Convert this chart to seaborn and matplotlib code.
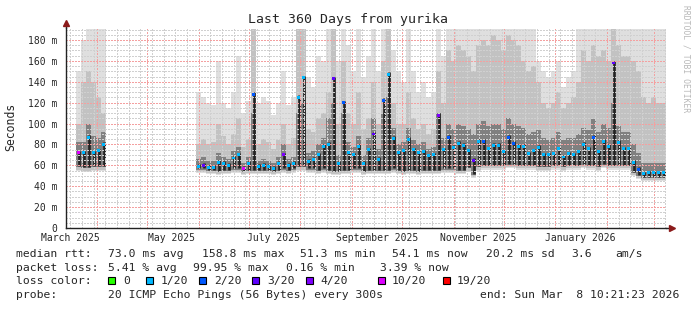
import numpy as np
import pandas as pd
import matplotlib
matplotlib.use("Agg")
import matplotlib.pyplot as plt
import matplotlib.dates as mdates
from matplotlib.ticker import MultipleLocator, FuncFormatter
from matplotlib.patches import Rectangle
from matplotlib.lines import Line2D
import seaborn as sns

N = np.nan

# ---------------- data (3-day bins, 120 bins over 360 days) ----------------
start = pd.Timestamp("2025-03-13 10:21:23")
end = pd.Timestamp("2026-03-08 10:21:23")
n_bins = 120

median_ms = [
    N, N, 72, 72, 87, 72, 74, 80, N, N,
    N, N, N, N, N, N, N, N, N, N,
    N, N, N, N, N, N, 59, 60, 58, 58,
    63, 62, 60, 67, 70, 57, 62, 128, 59, 60,
    59, 57, 62, 70, 60, 62, 125, 144, 64, 66,
    70, 78, 80, 143, 62, 120, 72, 70, 78, 62,
    75, 90, 66, 122, 147, 86, 72, 74, 85, 75,
    72, 73, 69, 70, 108, 75, 87, 77, 81, 79,
    74, 65, 83, 83, 76, 79, 79, 73, 87, 81,
    78, 78, 71, 74, 77, 70, 70, 71, 76, 68,
    71, 70, 73, 80, 76, 87, 73, 83, 78, 158,
    82, 76, 76, 63, 56, 52, 53, 53, 53, 53,
]

loss = [
    "", "", "10/20", "1/20", "1/20", "1/20", "1/20", "1/20", "", "",
    "", "", "", "", "", "", "", "", "", "",
    "", "", "", "", "", "", "1/20", "3/20", "1/20", "1/20",
    "1/20", "1/20", "1/20", "1/20", "1/20", "10/20", "1/20", "2/20", "1/20", "1/20",
    "1/20", "1/20", "1/20", "4/20", "1/20", "1/20", "1/20", "1/20", "1/20", "1/20",
    "1/20", "1/20", "1/20", "3/20", "1/20", "2/20", "1/20", "1/20", "1/20", "1/20",
    "1/20", "3/20", "1/20", "2/20", "1/20", "1/20", "1/20", "1/20", "1/20", "1/20",
    "1/20", "1/20", "1/20", "1/20", "4/20", "1/20", "2/20", "1/20", "1/20", "1/20",
    "1/20", "3/20", "1/20", "2/20", "1/20", "1/20", "1/20", "1/20", "2/20", "2/20",
    "1/20", "1/20", "1/20", "1/20", "1/20", "1/20", "1/20", "1/20", "1/20", "1/20",
    "1/20", "1/20", "1/20", "1/20", "1/20", "2/20", "1/20", "1/20", "1/20", "3/20",
    "1/20", "1/20", "1/20", "1/20", "2/20", "1/20", "1/20", "1/20", "1/20", "1/20",
]

smoke_min = [
    N, N, 55, 54, 54, 55, 55, 55, N, N,
    N, N, N, N, N, N, N, N, N, N,
    N, N, N, N, N, N, 53, 53, 52, 52,
    51, 52, 52, 53, 53, 51, 52, 52, 52, 52,
    52, 51, 52, 53, 52, 53, 55, 55, 53, 53,
    52, 53, 52, 51, 51, 52, 52, 53, 53, 51,
    52, 52, 52, 52, 52, 53, 52, 51, 52, 52,
    51, 52, 52, 52, 52, 53, 53, 53, 52, 52,
    54, 48, 55, 56, 56, 56, 56, 56, 57, 57,
    56, 56, 56, 56, 55, 55, 55, 56, 56, 55,
    56, 56, 56, 57, 56, 56, 55, 57, 56, 56,
    56, 56, 56, 50, 47, 45, 45, 45, 45, 45,
]

smoke_dark = [
    N, N, 82, 82, 100, 88, 86, 92, N, N,
    N, N, N, N, N, N, N, N, N, N,
    N, N, N, N, N, N, 66, 68, 64, 64,
    72, 68, 66, 74, 78, 62, 68, 110, 64, 66,
    64, 62, 68, 80, 66, 68, 110, 120, 72, 74,
    80, 86, 105, 120, 70, 110, 82, 78, 88, 70,
    86, 105, 76, 110, 125, 96, 80, 82, 96, 84,
    80, 82, 76, 78, 110, 86, 100, 95, 100, 98,
    95, 90, 100, 102, 98, 100, 100, 95, 105, 100,
    98, 96, 90, 92, 94, 86, 84, 86, 92, 84,
    86, 86, 90, 96, 94, 104, 92, 100, 96, 120,
    98, 92, 92, 80, 72, 62, 62, 62, 62, 62,
]

smoke_mid = [
    N, N, 100, 140, 150, 140, 125, 110, N, N,
    N, N, N, N, N, N, N, N, N, N,
    N, N, N, N, N, N, 80, 85, 80, 82,
    100, 88, 80, 90, 105, 78, 85, 191, 80, 85,
    82, 76, 84, 100, 80, 86, 191, 191, 95, 92,
    105, 110, 130, 191, 100, 160, 110, 100, 130, 95,
    105, 140, 100, 160, 191, 120, 100, 100, 130, 105,
    95, 100, 90, 95, 150, 120, 170, 160, 175, 170,
    165, 150, 175, 180, 175, 185, 180, 170, 185, 180,
    175, 160, 150, 155, 140, 120, 115, 120, 130, 115,
    120, 125, 140, 170, 160, 175, 165, 170, 160, 191,
    175, 165, 165, 160, 150, 125, 120, 125, 120, 120,
]

smoke_max = [
    N, N, 150, 180, 191, 191, 191, 191, N, N,
    N, N, N, N, N, N, N, N, N, N,
    N, N, N, N, N, N, 130, 125, 120, 118,
    160, 120, 115, 130, 165, 110, 122, 191, 120, 125,
    122, 108, 120, 150, 118, 125, 191, 191, 145, 135,
    165, 160, 191, 191, 160, 191, 175, 150, 191, 145,
    165, 191, 150, 191, 191, 170, 150, 140, 191, 150,
    130, 140, 125, 130, 191, 165, 191, 191, 191, 191,
    191, 191, 191, 191, 191, 191, 191, 191, 191, 191,
    191, 191, 191, 191, 160, 150, 145, 150, 160, 135,
    145, 150, 191, 191, 191, 191, 191, 191, 191, 191,
    191, 191, 191, 191, 191, 191, 191, 191, 191, 191,
]

loss_colors = {
    "0": "#26ff00", "1/20": "#00b8ff", "2/20": "#0059ff", "3/20": "#5e00ff",
    "4/20": "#7e00ff", "10/20": "#dd00ff", "19/20": "#ff0000",
}

# ---------------- build frame ----------------
bin_start = pd.date_range(start, periods=n_bins, freq="3D")
bin_end = bin_start + pd.Timedelta(days=3)
centers = bin_start + pd.Timedelta(days=1.5)
df = pd.DataFrame({
    "t": centers,
    "median": np.array(median_ms, float) / 1000.0,
    "lo": np.array(smoke_min, float) / 1000.0,
    "loss": loss,
})
med_df = df.dropna(subset=["median"])

# each bin as two points (start, end) so gaps stay gaps
x_pairs = np.ravel(np.column_stack([mdates.date2num(bin_start), mdates.date2num(bin_end)]))

def pairs(arr):
    a = np.array(arr, float) / 1000.0
    return np.repeat(a, 2)

lo = pairs(smoke_min)
dk = pairs(smoke_dark)
md = pairs(smoke_mid)
hi = pairs(smoke_max)

# ---------------- figure ----------------
sns.set_style("white")
plt.rcParams["font.family"] = ["DejaVu Sans Mono", "DejaVu Sans"]

W, H = 697, 310
fig = plt.figure(figsize=(W / 100, H / 100), dpi=100)
fig.patch.set_facecolor("white")

def fx(x):
    return x / W

def fy(y):
    return 1 - y / H

ax = fig.add_axes([fx(66), fy(228), 600 / W, 200 / H])
ax.set_facecolor("white")

# smoke bands (small offsets are drawing style only)
ax.fill_between(x_pairs, lo, hi, color="#dfdfdf", lw=0, zorder=1)
ax.fill_between(x_pairs, lo + 0.001, md, color="#c2c2c2", lw=0, zorder=1.1)
ax.fill_between(x_pairs, lo + 0.003, dk, color="#808080", lw=0, zorder=1.2)
# dark core of each bin, up to its median
ax.vlines(mdates.date2num(med_df["t"]), med_df["lo"] + 0.004, med_df["median"] + 0.002,
          color="#222222", lw=1.9, zorder=1.3)

# median points coloured by loss
sns.scatterplot(data=med_df, x="t", y="median", hue="loss", palette=loss_colors,
                marker="s", s=4.5, linewidth=0, legend=False, ax=ax, zorder=5)

ax.set_xlim(start, end)
ax.set_ylim(0, 0.1915)
ax.set_xlabel("")
ax.set_ylabel("")

# y axis
ax.yaxis.set_major_locator(MultipleLocator(0.020))
ax.yaxis.set_minor_locator(MultipleLocator(0.005))
ax.yaxis.set_major_formatter(FuncFormatter(lambda v, p: "0" if abs(v) < 1e-9 else f"{v*1000:.0f} m"))

# x axis: month boundaries major, weeks minor
ax.xaxis.set_major_locator(mdates.MonthLocator(bymonthday=1))
ax.xaxis.set_minor_locator(mdates.WeekdayLocator(byweekday=mdates.SU))
ax.xaxis.set_major_formatter(FuncFormatter(lambda v, p: ""))

ax.set_axisbelow(False)
dots = (0, (1, 1))
ax.grid(which="minor", color="#d0d0d0", lw=1.0, ls=dots, zorder=2.5, antialiased=False)
ax.grid(which="major", color="#f4a0a0", lw=1.0, ls=dots, zorder=2.6, antialiased=False)

ax.tick_params(axis="both", which="major", direction="out", length=2.5, width=0.7,
               color="#444444", labelsize=7, pad=2)
ax.tick_params(axis="both", which="minor", direction="out", length=1.5, width=0.6,
               color="#888888")
ax.tick_params(axis="y", which="major", pad=3.5)

for s in ["top", "right"]:
    ax.spines[s].set_visible(False)
for s in ["left", "bottom"]:
    ax.spines[s].set_color("#222222")
    ax.spines[s].set_linewidth(1.0)
    ax.spines[s].set_zorder(6)

# month labels centred mid-month every 2 months
for d in mdates.MonthLocator(bymonth=[1, 3, 5, 7, 9, 11], bymonthday=16).tick_values(start, end):
    dt = mdates.num2date(d)
    ax.text(d, -0.0052, dt.strftime("%B %Y"), ha="center", va="top", fontsize=7,
            transform=ax.transData, clip_on=False)

# axis extensions with arrows
arrow_c = "#8b1a1a"
fig.add_artist(Line2D([fx(666), fx(671)], [fy(228), fy(228)], color="#222222", lw=1.0))
fig.add_artist(Line2D([fx(66), fx(66)], [fy(28), fy(24)], color="#222222", lw=1.0))
fig.add_artist(Line2D([fx(672)], [fy(228)], marker=">", color=arrow_c, markersize=4, lw=0))
fig.add_artist(Line2D([fx(66)], [fy(22.5)], marker="^", color=arrow_c, markersize=4, lw=0))

# titles
fig.text(fx(348), fy(19), "Last 360 Days from yurika", ha="center", va="center", fontsize=9.5)
fig.text(fx(11), fy(127), "Seconds", rotation=90, ha="center", va="center", fontsize=8.3)
fig.text(fx(686), fy(5), "RRDTOOL / TOBI OETIKER", rotation=270, ha="center", va="top",
         fontsize=5.8, color="#b8b8b8")

# legend lines
LF = 8.2
def lt(x, y, s):
    fig.text(fx(x), fy(y), s, ha="left", va="baseline", fontsize=LF)

y1, y2, y3, y4 = 257, 270.8, 284.4, 298
for x, s in [(16, "median rtt:"), (107.7, "73.0 ms avg"), (201.7, "158.8 ms max"),
             (300, "51.3 ms min"), (392, "54.1 ms now"), (486.3, "20.2 ms sd"),
             (571, "3.6"), (615.3, "am/s")]:
    lt(x, y1, s)
for x, s in [(16, "packet loss:"), (107.7, "5.41 % avg"), (193.3, "99.95 % max"),
             (286, "0.16 % min"), (380.3, "3.39 % now")]:
    lt(x, y2, s)
lt(16, y3, "loss color:")
box_x = [107.7, 145.7, 199.3, 252.3, 306, 377.7, 442.7]
lab_x = [123.3, 160.7, 214, 267.3, 320.7, 392, 457]
for bx, tx, (lab, col) in zip(box_x, lab_x, loss_colors.items()):
    fig.add_artist(Rectangle((fx(bx), fy(284.3)), 7 / W, 7.6 / H, transform=fig.transFigure,
                             facecolor=col, edgecolor="black", lw=0.8))
    lt(tx, y3, lab)
lt(16, y4, "probe:")
lt(107.7, y4, "20 ICMP Echo Pings (56 Bytes) every 300s")
lt(479.7, y4, "end: Sun Mar  8 10:21:23 2026")

fig.savefig("out.png", dpi=100, facecolor="white")
